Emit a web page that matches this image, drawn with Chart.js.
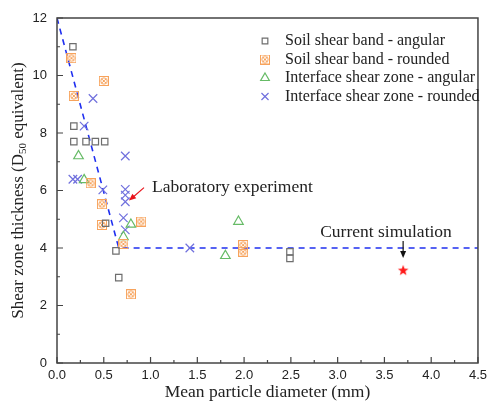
<!DOCTYPE html>
<html>
<head>
<meta charset="utf-8">
<script src="https://cdn.jsdelivr.net/npm/chart.js@4"></script>
<style>
  html, body { margin: 0; padding: 0; background: #fff; }
  #wrap { width: 492px; height: 403px; }
</style>
</head>
<body>
<div id="wrap"><canvas id="chart" width="492" height="403"></canvas></div>
<script>
// Data: [mean particle diameter (mm), thickness (D50)]
const soil_angular = [
    [0.17, 11.0], [0.18, 8.24], [0.18, 7.7], [0.31, 7.7], [0.41, 7.7], [0.51, 7.7],
    [0.52, 4.86], [0.63, 3.9], [0.66, 2.97], [2.49, 3.87], [2.49, 3.64]
];
const soil_rounded = [
    [0.155, 10.6], [0.18, 9.29], [0.50, 9.81], [0.36, 6.25], [0.48, 5.52],
    [0.48, 4.8], [0.90, 4.92], [0.71, 4.14], [0.79, 2.39], [1.99, 4.1], [1.99, 3.87]
];
const interface_angular = [
    [0.23, 7.2], [0.29, 6.37], [0.79, 4.82], [0.71, 4.39], [1.94, 4.92], [1.80, 3.73]
];
const interface_rounded = [
    [0.385, 9.2], [0.29, 8.24], [0.73, 7.2], [0.17, 6.39], [0.22, 6.39], [0.49, 6.02],
    [0.73, 6.04], [0.73, 5.84], [0.73, 5.61], [0.71, 5.05], [0.73, 4.63], [1.42, 4.0]
];
const trend_line = [[0, 12], [0.66, 4.0], [4.5, 4.0]];
const simulation = [[3.7, 3.23]];

const legend_labels = [
    'Soil shear band - angular',
    'Soil shear band - rounded',
    'Interface shear zone - angular',
    'Interface shear zone - rounded'
];
const x_ticks = [0, 0.5, 1, 1.5, 2, 2.5, 3, 3.5, 4, 4.5];
const y_ticks = [0, 2, 4, 6, 8, 10, 12];

const serif = "'Liberation Serif', 'Times New Roman', serif";
const sans = "'Liberation Sans', Arial, sans-serif";

const gray_color = '#6e6e6e';
const orange_color = '#f7a35c';
const green_color = '#66bb66';
const blue_x_color = '#7070dd';
const line_color = '#1f2ff0';

function to_points(arr) {
    return arr.map(p => ({ x: p[0], y: p[1] }));
}

// Orange square with a crossed circle inside
function make_rounded_marker() {
    const c = document.createElement('canvas');
    c.width = 10; c.height = 10;
    const g = c.getContext('2d');
    g.strokeStyle = orange_color;
    g.lineWidth = 1;
    g.strokeRect(0.5, 0.5, 9, 9);
    g.beginPath();
    g.arc(5, 5, 3.2, 0, Math.PI * 2);
    g.stroke();
    g.beginPath();
    g.moveTo(2.7, 2.7); g.lineTo(7.3, 7.3);
    g.moveTo(7.3, 2.7); g.lineTo(2.7, 7.3);
    g.stroke();
    return c;
}

function make_star_marker() {
    const c = document.createElement('canvas');
    c.width = 12; c.height = 12;
    const g = c.getContext('2d');
    g.fillStyle = '#ff1a1a';
    g.beginPath();
    for (let i = 0; i < 10; i++) {
        const r = i % 2 === 0 ? 5.6 : 2.3;
        const a = -Math.PI / 2 + i * Math.PI / 5;
        const px = 6 + r * Math.cos(a), py = 6.4 + r * Math.sin(a);
        if (i === 0) g.moveTo(px, py); else g.lineTo(px, py);
    }
    g.closePath();
    g.fill();
    return c;
}

const rounded_marker = make_rounded_marker();
const star_marker = make_star_marker();

const chart_datasets = {
    datasets: [
        {
            label: legend_labels[0],
            data: to_points(soil_angular),
            pointStyle: 'rect',
            pointRadius: 4.5,
            borderColor: gray_color,
            backgroundColor: 'rgba(0,0,0,0)',
            borderWidth: 1.2,
            showLine: false
        },
        {
            label: legend_labels[1],
            data: to_points(soil_rounded),
            pointStyle: rounded_marker,
            showLine: false
        },
        {
            label: legend_labels[2],
            data: to_points(interface_angular),
            pointStyle: 'triangle',
            pointRadius: 5.5,
            borderColor: green_color,
            backgroundColor: 'rgba(0,0,0,0)',
            borderWidth: 1.2,
            showLine: false
        },
        {
            label: legend_labels[3],
            data: to_points(interface_rounded),
            pointStyle: 'crossRot',
            pointRadius: 6,
            borderColor: blue_x_color,
            borderWidth: 1.2,
            showLine: false
        },
        {
            label: 'trend',
            data: to_points(trend_line),
            showLine: true,
            borderColor: line_color,
            borderWidth: 1.6,
            borderDash: [6, 5],
            pointRadius: 0,
            fill: false
        },
        {
            label: 'Current simulation',
            data: to_points(simulation),
            pointStyle: star_marker,
            showLine: false
        }
    ]
};

// Frame, inward ticks, axis title with subscript, legend and annotations
const decorations = {
    id: 'decorations',
    afterDraw(chart) {
        const ctx = chart.ctx;
        const area = chart.chartArea;
        const xs = chart.scales.x, ys = chart.scales.y;
        ctx.save();

        // frame
        ctx.strokeStyle = '#444';
        ctx.lineWidth = 1.5;
        ctx.strokeRect(area.left, area.top, area.right - area.left, area.bottom - area.top);

        // inward ticks
        ctx.lineWidth = 1.2;
        ctx.beginPath();
        for (let v = 0; v <= 4.5 + 1e-6; v += 0.25) {
            const px = xs.getPixelForValue(v);
            const len = Math.abs(v * 2 - Math.round(v * 2)) < 1e-6 ? 6 : 3;
            ctx.moveTo(px, area.bottom); ctx.lineTo(px, area.bottom - len);
        }
        for (let v = 0; v <= 12 + 1e-6; v += 1) {
            const py = ys.getPixelForValue(v);
            const len = v % 2 === 0 ? 6 : 3;
            ctx.moveTo(area.left, py); ctx.lineTo(area.left + len, py);
        }
        ctx.stroke();

        // y title with subscript 50
        ctx.fillStyle = '#222';
        ctx.translate(19, (area.top + area.bottom) / 2);
        ctx.rotate(-Math.PI / 2);
        ctx.textBaseline = 'middle';
        const big = '17px ' + serif, small = '11px ' + serif;
        const parts = [['Shear zone thickness (D', big, 0], ['50', small, 4], [' equivalent)', big, 0]];
        let total = 0;
        parts.forEach(p => { ctx.font = p[1]; total += ctx.measureText(p[0]).width; });
        let cx = -total / 2;
        parts.forEach(p => {
            ctx.font = p[1];
            ctx.textAlign = 'left';
            ctx.fillText(p[0], cx, p[2]);
            cx += ctx.measureText(p[0]).width;
        });
        ctx.setTransform(1, 0, 0, 1, 0, 0);

        // legend
        const legend_y = [41, 59.5, 78, 96.5];
        const legend_colors = [gray_color, orange_color, green_color, blue_x_color];
        const legend_radius = [4, 5, 5, 5];
        ctx.font = '16px ' + serif;
        ctx.textAlign = 'left';
        ctx.textBaseline = 'middle';
        legend_labels.forEach((lbl, i) => {
            const ly = legend_y[i];
            const ds = chart.data.datasets[i];
            ctx.strokeStyle = legend_colors[i];
            ctx.fillStyle = 'rgba(0,0,0,0)';
            ctx.lineWidth = 1.2;
            Chart.helpers.drawPoint(ctx, {
                pointStyle: ds.pointStyle,
                radius: legend_radius[i],
                borderWidth: 1.2,
                rotation: 0
            }, 265, ly);
            ctx.fillStyle = '#222';
            ctx.fillText(lbl, 285, ly);
        });

        // annotation: laboratory experiment
        ctx.font = '17.5px ' + serif;
        ctx.fillStyle = '#222';
        ctx.fillText('Laboratory experiment', 152, 187);
        const ax0 = xs.getPixelForValue(0.93), ay0 = ys.getPixelForValue(6.1);
        const ax1 = xs.getPixelForValue(0.77), ay1 = ys.getPixelForValue(5.65);
        draw_arrow(ctx, ax0, ay0, ax1, ay1, '#e8141c');

        // annotation: current simulation
        ctx.textAlign = 'center';
        ctx.fillStyle = '#222';
        ctx.fillText('Current simulation', 386, 232);
        const sx = xs.getPixelForValue(3.7);
        draw_arrow(ctx, sx, 241, sx, 258, '#111');

        ctx.restore();
    }
};

function draw_arrow(ctx, x0, y0, x1, y1, color) {
    const a = Math.atan2(y1 - y0, x1 - x0);
    ctx.strokeStyle = color;
    ctx.fillStyle = color;
    ctx.lineWidth = 1.2;
    ctx.beginPath();
    ctx.moveTo(x0, y0);
    ctx.lineTo(x1 - 4 * Math.cos(a), y1 - 4 * Math.sin(a));
    ctx.stroke();
    ctx.beginPath();
    ctx.moveTo(x1, y1);
    ctx.lineTo(x1 - 7 * Math.cos(a) + 3 * Math.sin(a), y1 - 7 * Math.sin(a) - 3 * Math.cos(a));
    ctx.lineTo(x1 - 7 * Math.cos(a) - 3 * Math.sin(a), y1 - 7 * Math.sin(a) + 3 * Math.cos(a));
    ctx.closePath();
    ctx.fill();
}

const chart_options = {
    animation: false,
    responsive: false,
    maintainAspectRatio: false,
    layout: { padding: { top: 18, right: 10, left: 0, bottom: 0 } },
    plugins: {
        legend: { display: false },
        title: { display: false },
        tooltip: { enabled: false }
    },
    scales: {
        x: {
            type: 'linear',
            min: 0,
            max: 4.5,
            afterBuildTicks: s => { s.ticks = x_ticks.map(v => ({ value: v })); },
            afterFit: s => { s.height = 40; },
            grid: { display: false, drawTicks: false },
            border: { display: false },
            ticks: {
                padding: 5,
                color: '#222',
                font: { family: sans, size: 13 },
                maxRotation: 0,
                callback: v => v.toFixed(1)
            },
            title: {
                display: true,
                text: 'Mean particle diameter (mm)',
                color: '#222',
                font: { family: serif, size: 17.5 },
                padding: { top: 0, bottom: 0 }
            }
        },
        y: {
            type: 'linear',
            min: 0,
            max: 12,
            afterBuildTicks: s => { s.ticks = y_ticks.map(v => ({ value: v })); },
            afterFit: s => { s.width = 57; },
            grid: { display: false, drawTicks: false },
            border: { display: false },
            ticks: {
                padding: 10,
                color: '#222',
                font: { family: sans, size: 13 }
            }
        }
    }
};

const chart_canvas = document.getElementById('chart');
new Chart(chart_canvas, {
    type: 'scatter',
    data: chart_datasets,
    options: chart_options,
    plugins: [decorations]
});
</script>
</body>
</html>
